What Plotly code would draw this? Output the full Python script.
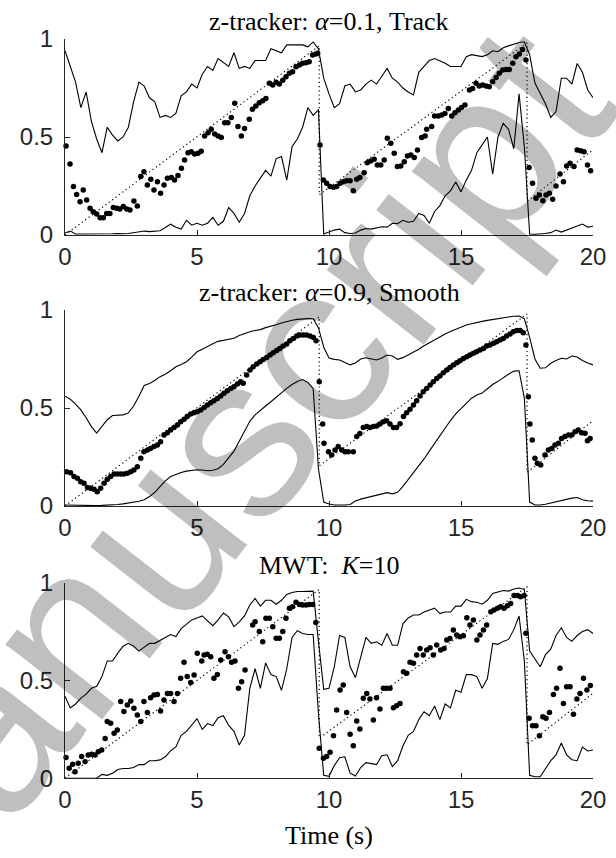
import numpy as np
import plotly.graph_objects as go

# ---------------- data ----------------
t_line = np.round(np.arange(0, 20.0001, 0.2), 1)

truth_t = [0, 9.63, 9.63, 17.5, 17.5, 20]
truth_v = [0, 0.965, 0.205, 0.98, 0.172, 0.435]

# Panel 1: z-tracker alpha=0.1 (Track)
upper1 = [0.94, 0.86, 0.78, 0.65, 0.73, 0.58, 0.49, 0.42, 0.55, 0.51, 0.48, 0.50, 0.55, 0.68, 0.78, 0.76, 0.70, 0.68, 0.60, 0.61,
          0.60, 0.62, 0.71, 0.73, 0.77, 0.75, 0.82, 0.86, 0.84, 0.90, 0.88, 0.86, 0.93, 0.85, 0.86,
          0.85, 0.89, 0.89, 0.89, 0.95, 0.94, 0.93, 0.97, 0.97, 0.97, 0.97, 0.96, 0.985, 0.95,
          0.80, 0.72, 0.65, 0.67, 0.76, 0.77, 0.73, 0.74, 0.77, 0.79, 0.77, 0.81, 0.85, 0.80, 0.78, 0.75, 0.73, 0.715, 0.83, 0.86,
          0.89, 0.90, 0.89, 0.876, 0.86, 0.86, 0.86, 0.91, 0.92, 0.915, 0.91, 0.92, 0.94, 0.935, 0.955, 0.965, 0.975, 0.982, 0.986,
          0.92, 0.775, 0.72, 0.67, 0.60, 0.63, 0.80, 0.80, 0.77, 0.875, 0.83, 0.74, 0.70]
lower1 = [0.01, 0.02, 0.005, 0.005, 0.004, 0.003, 0.003, 0.004, 0.005, 0.006, 0.008, 0.006, 0.008, 0.012, 0.015, 0.02, 0.017, 0.02,
          0.022, 0.038, 0.055, 0.04, 0.03, 0.075, 0.05, 0.06, 0.05, 0.06, 0.09, 0.05, 0.07, 0.14, 0.11, 0.065, 0.11,
          0.20, 0.25, 0.29, 0.33, 0.30, 0.39, 0.40, 0.28, 0.45, 0.49, 0.55, 0.65, 0.61, 0.64,
          0.005, 0.015, 0.025, 0.03, 0.012, 0.008, 0.01, 0.025, 0.033, 0.03, 0.035, 0.042, 0.04, 0.06, 0.058, 0.075, 0.065, 0.07, 0.11, 0.10,
          0.06, 0.12, 0.15, 0.20, 0.225, 0.27, 0.22, 0.28, 0.33, 0.42, 0.46, 0.50, 0.31, 0.50, 0.57, 0.54, 0.44, 0.72, 0.45,
          0.005, 0.004, 0.005, 0.008, 0.012, 0.025, 0.015, 0.025, 0.035, 0.045, 0.056, 0.04, 0.045]
dots1_t = [0.04, 0.19, 0.32, 0.44, 0.57, 0.69, 0.82, 0.95, 1.07, 1.2, 1.33, 1.45, 1.58, 1.7, 1.83, 1.96, 2.08, 2.21, 2.34, 2.46,
           2.61, 2.74, 2.87, 2.99, 3.12, 3.25, 3.37, 3.5, 3.62, 3.75, 3.88, 4.03, 4.15, 4.28, 4.41, 4.53, 4.66, 4.78, 4.91, 5.04,
           5.16, 5.29, 5.42, 5.54, 5.67, 5.8, 5.92, 6.05, 6.17, 6.3, 6.43, 6.55, 6.68, 6.8,
           6.98, 7.1, 7.23, 7.36, 7.49, 7.61, 7.74, 7.87, 8.0, 8.12, 8.25, 8.37, 8.5, 8.62, 8.75, 8.88, 9.0, 9.13, 9.25, 9.38, 9.5, 9.57,
           9.66, 9.79, 9.91, 10.04, 10.17, 10.29, 10.42, 10.54, 10.67, 10.8, 10.92, 11.05, 11.17, 11.33, 11.45, 11.58, 11.71, 11.83,
           11.96, 12.09, 12.21, 12.34, 12.47, 12.59, 12.72, 12.85, 12.97, 13.1, 13.23, 13.35, 13.51, 13.64,
           13.7, 13.89, 14.0, 14.14, 14.27, 14.39, 14.52, 14.65, 14.77, 14.9, 15.02, 15.15, 15.32, 15.44, 15.57, 15.69, 15.82, 15.95,
           16.07, 16.2, 16.33, 16.45, 16.58, 16.71, 16.83, 16.96, 17.08, 17.21, 17.33, 17.46, 17.58, 17.71, 17.84, 17.97, 18.1, 18.22,
           18.35, 18.47, 18.6, 18.75, 18.88, 19.0, 19.13, 19.28, 19.4, 19.53, 19.66, 19.79, 19.91]
dots1_v = [0.454, 0.362, 0.247, 0.207, 0.17, 0.23, 0.179, 0.136, 0.119, 0.107, 0.088, 0.088, 0.11, 0.11, 0.14, 0.136, 0.133, 0.145,
           0.133, 0.128, 0.173, 0.148, 0.298, 0.323, 0.255, 0.284, 0.23, 0.272, 0.213, 0.255, 0.289, 0.294, 0.28, 0.303, 0.34, 0.383,
           0.42, 0.425, 0.413, 0.417, 0.427, 0.505, 0.522, 0.539, 0.515, 0.505, 0.498, 0.573, 0.573, 0.60, 0.672, 0.553, 0.505, 0.544,
           0.59, 0.641, 0.658, 0.675, 0.685, 0.697, 0.774, 0.765, 0.779, 0.77, 0.79, 0.808, 0.825, 0.833, 0.859, 0.867, 0.876, 0.879,
           0.884, 0.918, 0.923, 0.927,
           0.459, 0.28, 0.264, 0.247, 0.243, 0.247, 0.264, 0.272, 0.277, 0.277, 0.226, 0.284, 0.294, 0.318, 0.369, 0.378, 0.386, 0.357,
           0.357, 0.383, 0.493, 0.468, 0.417, 0.349, 0.352, 0.374, 0.403, 0.408, 0.396, 0.434, 0.498, 0.505,
           0.539, 0.553, 0.607, 0.607, 0.612, 0.62, 0.646, 0.607, 0.624, 0.638, 0.651, 0.663, 0.74, 0.748, 0.774, 0.76, 0.765, 0.76,
           0.757, 0.782, 0.804, 0.825, 0.842, 0.845, 0.845, 0.876, 0.91, 0.923, 0.947, 0.893, 0.345, 0.264, 0.187, 0.204, 0.175, 0.204,
           0.213, 0.182, 0.25, 0.311, 0.272, 0.352, 0.366, 0.349, 0.434, 0.43, 0.425, 0.357, 0.328]

# Panel 2: z-tracker alpha=0.9 (Smooth)
upper2 = [0.56, 0.545, 0.52, 0.49, 0.45, 0.405, 0.372, 0.405, 0.44, 0.462, 0.465, 0.465, 0.475, 0.51, 0.56, 0.615, 0.625, 0.64,
          0.66, 0.672, 0.69, 0.71, 0.722, 0.736, 0.76, 0.787, 0.80, 0.815, 0.828, 0.84, 0.845, 0.849, 0.856, 0.87, 0.88,
          0.889, 0.895, 0.90, 0.91, 0.916, 0.925, 0.934, 0.942, 0.948, 0.952, 0.955, 0.956, 0.955, 0.91,
          0.81, 0.755, 0.748, 0.745, 0.732, 0.72, 0.73, 0.75, 0.756, 0.752, 0.745, 0.755, 0.77, 0.765, 0.748, 0.757, 0.77, 0.787, 0.80, 0.818,
          0.833, 0.85, 0.864, 0.877, 0.89, 0.902, 0.913, 0.923, 0.93, 0.937, 0.942, 0.947, 0.952, 0.956, 0.96, 0.964, 0.968, 0.969, 0.955,
          0.86, 0.75, 0.703, 0.705, 0.728, 0.742, 0.754, 0.75, 0.765, 0.76, 0.742, 0.73, 0.72]
lower2 = [0.005, 0.004, 0.003, 0.002, 0.002, 0.002, 0.002, 0.003, 0.004, 0.006, 0.008, 0.011, 0.015, 0.018, 0.024, 0.032, 0.048, 0.07,
          0.098, 0.128, 0.15, 0.162, 0.171, 0.178, 0.183, 0.185, 0.184, 0.18, 0.182, 0.19, 0.212, 0.248, 0.28, 0.33, 0.385,
          0.432, 0.465, 0.49, 0.51, 0.532, 0.556, 0.58, 0.60, 0.62, 0.635, 0.645, 0.63, 0.60, 0.19,
          0.02, 0.01, 0.005, 0.004, 0.005, 0.008, 0.025, 0.035, 0.042, 0.05, 0.056, 0.063, 0.068, 0.062, 0.07, 0.1, 0.135, 0.167, 0.2, 0.24,
          0.28, 0.32, 0.362, 0.40, 0.436, 0.47, 0.497, 0.524, 0.55, 0.566, 0.576, 0.598, 0.62, 0.636, 0.655, 0.672, 0.688, 0.69, 0.55,
          0.02, 0.005, 0.005, 0.009, 0.015, 0.022, 0.028, 0.035, 0.04, 0.043, 0.032, 0.027, 0.025]
dots2_t = [0.06, 0.21, 0.34, 0.47, 0.59, 0.72, 0.85, 0.97, 1.1, 1.22, 1.35, 1.48, 1.6, 1.73, 1.86, 1.98, 2.11, 2.23, 2.36, 2.49,
           2.61, 2.74, 2.87, 2.99, 3.12, 3.24, 3.37, 3.5, 3.62, 3.75, 3.88, 4.0, 4.13, 4.26, 4.38, 4.51, 4.63, 4.76, 4.89, 5.01,
           5.14, 5.27, 5.39, 5.52, 5.64, 5.77, 5.9, 6.02, 6.15, 6.28, 6.4, 6.53, 6.65, 6.75, 6.88, 7.01, 7.13, 7.26, 7.39, 7.51,
           7.64, 7.77, 7.89, 8.02, 8.14, 8.27, 8.4, 8.52, 8.65, 8.78, 8.9, 9.03, 9.15, 9.28, 9.41, 9.51,
           9.63, 9.76, 9.81, 9.98, 10.1, 10.23, 10.35, 10.48, 10.61, 10.73, 10.92, 11.05, 11.17, 11.3, 11.43, 11.55, 11.68, 11.81,
           11.93, 12.06, 12.18, 12.31, 12.44, 12.56, 12.69, 12.82, 12.94, 13.07, 13.2, 13.32, 13.45, 13.57, 13.7, 13.83, 13.95,
           14.08, 14.2, 14.33, 14.46, 14.58, 14.71, 14.84, 14.96, 15.09, 15.22, 15.34, 15.47, 15.59, 15.72, 15.85, 15.97, 16.1,
           16.23, 16.35, 16.48, 16.6, 16.73, 16.86, 16.98, 17.11, 17.24, 17.36, 17.46, 17.55, 17.61, 17.7, 17.8, 17.89, 18.02,
           18.18, 18.31, 18.44, 18.56, 18.69, 18.81, 18.94, 19.07, 19.19, 19.32, 19.44, 19.57, 19.7, 19.79, 19.89]
dots2_v = [0.175, 0.17, 0.15, 0.141, 0.124, 0.116, 0.095, 0.09, 0.085, 0.073, 0.09, 0.116, 0.136, 0.15, 0.163, 0.163, 0.163, 0.163,
           0.167, 0.175, 0.184, 0.20, 0.243, 0.277, 0.286, 0.294, 0.303, 0.311, 0.328, 0.362, 0.374, 0.388, 0.40, 0.413, 0.43, 0.442,
           0.456, 0.47, 0.476, 0.481, 0.49, 0.503, 0.515, 0.527, 0.537, 0.549, 0.561, 0.575, 0.588, 0.60, 0.609, 0.622, 0.634, 0.626,
           0.668, 0.694, 0.711, 0.724, 0.736, 0.748, 0.758, 0.77, 0.782, 0.793, 0.804, 0.816, 0.826, 0.843, 0.855, 0.867, 0.872, 0.872,
           0.872, 0.867, 0.86, 0.843,
           0.634, 0.418, 0.32, 0.277, 0.26, 0.286, 0.303, 0.286, 0.277, 0.277, 0.277, 0.354, 0.37, 0.40, 0.405, 0.40, 0.405, 0.408,
           0.418, 0.43, 0.435, 0.418, 0.40, 0.40, 0.42, 0.456, 0.476, 0.493, 0.515, 0.537, 0.561, 0.583, 0.60, 0.617, 0.634, 0.651,
           0.663, 0.68, 0.694, 0.707, 0.719, 0.731, 0.741, 0.753, 0.762, 0.77, 0.779, 0.787, 0.796, 0.804, 0.816, 0.821, 0.83, 0.838,
           0.847, 0.855, 0.867, 0.878, 0.889, 0.895, 0.895, 0.884, 0.821, 0.558, 0.418, 0.337, 0.243, 0.218, 0.209, 0.26, 0.286, 0.294,
           0.311, 0.32, 0.345, 0.354, 0.362, 0.362, 0.379, 0.388, 0.374, 0.371, 0.333, 0.345]

# Panel 3: MWT K=10
upper3 = [0.42, 0.36, 0.38, 0.41, 0.43, 0.46, 0.47, 0.52, 0.60, 0.60, 0.64, 0.675, 0.69, 0.675, 0.65, 0.67, 0.69, 0.69, 0.707, 0.72,
          0.735, 0.725, 0.765, 0.79, 0.81, 0.82, 0.83, 0.805, 0.78, 0.81, 0.845, 0.825, 0.775, 0.80, 0.83,
          0.886, 0.92, 0.88, 0.91, 0.91, 0.89, 0.91, 0.94, 0.95, 0.955, 0.955, 0.957, 0.957, 0.70,
          0.455, 0.46, 0.57, 0.73, 0.72, 0.57, 0.515, 0.62, 0.72, 0.69, 0.698, 0.68, 0.74, 0.68, 0.68, 0.79, 0.82, 0.835, 0.835, 0.85,
          0.86, 0.87, 0.842, 0.85, 0.85, 0.88, 0.88, 0.915, 0.903, 0.90, 0.89, 0.91, 0.945, 0.952, 0.96, 0.957, 0.968, 0.973, 0.965,
          0.65, 0.61, 0.57, 0.632, 0.66, 0.73, 0.77, 0.72, 0.70, 0.73, 0.75, 0.76, 0.74]
lower3 = [0.0, 0.0, 0.0, 0.0, 0.0, 0.0, 0.0, 0.02, 0.015, 0.026, 0.045, 0.05, 0.05, 0.055, 0.07, 0.07, 0.09, 0.09, 0.094, 0.11,
          0.14, 0.16, 0.22, 0.24, 0.27, 0.305, 0.25, 0.28, 0.27, 0.31, 0.32, 0.27, 0.24, 0.17, 0.22,
          0.46, 0.56, 0.46, 0.59, 0.53, 0.52, 0.45, 0.56, 0.72, 0.755, 0.74, 0.735, 0.735, 0.33,
          0.015, 0.01, 0.065, 0.105, 0.11, 0.026, 0.012, 0.055, 0.08, 0.075, 0.07, 0.115, 0.12, 0.06, 0.09, 0.165, 0.22, 0.24, 0.30, 0.34,
          0.32, 0.37, 0.30, 0.38, 0.36, 0.45, 0.44, 0.53, 0.53, 0.52, 0.46, 0.51, 0.69, 0.685, 0.70, 0.71, 0.76, 0.83, 0.60,
          0.015, 0.008, 0.008, 0.05, 0.09, 0.12, 0.18, 0.12, 0.095, 0.09, 0.16, 0.14, 0.145]
dots3_t = [0.04, 0.16, 0.29, 0.38, 0.5, 0.63, 0.76, 0.88, 1.01, 1.14, 1.26, 1.39, 1.52, 1.6, 1.73, 1.86, 1.98, 2.11, 2.23, 2.36,
           2.49, 2.61, 2.74, 2.87, 2.99, 3.12, 3.24, 3.37, 3.5, 3.62, 3.75, 3.88, 4.0, 4.13, 4.26, 4.38, 4.51, 4.63, 4.76, 4.89,
           5.01, 5.18, 5.27, 5.39, 5.52, 5.64, 5.77, 5.9, 6.06, 6.19, 6.31, 6.44, 6.57, 6.69,
           6.82, 7.11, 7.2, 7.36, 7.49, 7.61, 7.74, 7.87, 8.0, 8.12, 8.25, 8.37, 8.5, 8.62, 8.75, 8.88, 9.0, 9.13, 9.25, 9.38, 9.5,
           9.63, 9.79, 9.91, 10.04, 10.17, 10.29, 10.42, 10.54, 10.67, 10.8, 10.92, 11.05, 11.17, 11.3, 11.43, 11.55, 11.68, 11.8,
           11.93, 12.06, 12.18, 12.31, 12.44, 12.56, 12.69, 12.82, 12.94, 13.07, 13.2, 13.32, 13.45, 13.57,
           13.7, 13.83, 13.95, 14.08, 14.23, 14.36, 14.46, 14.58, 14.71, 14.84, 14.96, 15.09, 15.22, 15.34, 15.47, 15.6, 15.72,
           15.85, 15.97, 16.13, 16.25, 16.38, 16.5, 16.63, 16.76, 16.88, 17.01, 17.14, 17.26, 17.39, 17.46, 17.58, 17.71, 17.84,
           17.97, 18.1, 18.22, 18.35, 18.5, 18.62, 18.75, 18.88, 19.0, 19.13, 19.26, 19.39, 19.51, 19.64, 19.77, 19.9]
dots3_v = [0.106, 0.051, 0.072, 0.034, 0.077, 0.111, 0.085, 0.119, 0.123, 0.119, 0.136, 0.145, 0.204, 0.29, 0.281, 0.23, 0.247,
           0.392, 0.341, 0.375, 0.395, 0.358, 0.324, 0.29, 0.392, 0.337, 0.412, 0.426, 0.429, 0.344, 0.40, 0.434, 0.434, 0.392,
           0.434, 0.511, 0.593, 0.52, 0.49, 0.528, 0.639, 0.60, 0.63, 0.634, 0.622, 0.511, 0.531, 0.605, 0.647, 0.622, 0.593,
           0.60, 0.46, 0.494,
           0.554, 0.784, 0.80, 0.75, 0.698, 0.818, 0.818, 0.775, 0.716, 0.716, 0.75, 0.818, 0.869, 0.877, 0.90, 0.889, 0.886,
           0.886, 0.889, 0.889, 0.797,
           0.153, 0.102, 0.111, 0.133, 0.218, 0.349, 0.451, 0.477, 0.337, 0.225, 0.167, 0.293, 0.252, 0.409, 0.434, 0.405, 0.298,
           0.412, 0.354, 0.46, 0.46, 0.46, 0.361, 0.371, 0.383, 0.545, 0.537, 0.593, 0.588, 0.63, 0.664, 0.63,
           0.656, 0.668, 0.63, 0.681, 0.656, 0.664, 0.707, 0.715, 0.758, 0.733, 0.724, 0.729, 0.821, 0.784, 0.809, 0.707, 0.733,
           0.758, 0.784, 0.852, 0.86, 0.869, 0.877, 0.869, 0.882, 0.894, 0.934, 0.934, 0.928, 0.934, 0.741, 0.307, 0.269, 0.269,
           0.218, 0.315, 0.307, 0.337, 0.429, 0.46, 0.562, 0.383, 0.468, 0.468, 0.327, 0.405, 0.434, 0.511, 0.451, 0.474]

titles = ["z-tracker: <i>\u03b1</i>=0.1, Track",
          "z-tracker: <i>\u03b1</i>=0.9, Smooth",
          "MWT:  <i>K</i>=10"]
x_ticks = [0, 5, 10, 15, 20]
y_ticks = [0, 0.5, 1]
y_ticktext = ["0", "0.5", "1"]
x_label = "Time (s)"
watermark = "Manuscript"

panels = [(upper1, lower1, dots1_t, dots1_v),
          (upper2, lower2, dots2_t, dots2_v),
          (upper3, lower3, dots3_t, dots3_v)]

# ---------------- layout geometry ----------------
W, H = 616, 858
x_dom = [65 / W, 593 / W]
y_px = [(39, 235), (310, 506), (582.7, 778.3)]   # (top, bottom) in pixels
y_doms = [[1 - b / H, 1 - t / H] for (t, b) in y_px]

AX_COL = "#262626"
TICK_FONT = dict(family="Liberation Sans, Arial, sans-serif", size=24, color=AX_COL)
SERIF = "Liberation Serif, Times New Roman, serif"

fig = go.Figure()
for i, (up, lo, dt, dv) in enumerate(panels):
    xa = "x" if i == 0 else f"x{i+1}"
    ya = "y" if i == 0 else f"y{i+1}"
    fig.add_trace(go.Scatter(x=truth_t, y=truth_v, mode="lines",
                             line=dict(color="black", width=1.2, dash="1.2px,3px"),
                             xaxis=xa, yaxis=ya, showlegend=False, hoverinfo="skip"))
    fig.add_trace(go.Scatter(x=t_line, y=up, mode="lines", line=dict(color="black", width=1.1),
                             xaxis=xa, yaxis=ya, showlegend=False))
    fig.add_trace(go.Scatter(x=t_line, y=lo, mode="lines", line=dict(color="black", width=1.1),
                             xaxis=xa, yaxis=ya, showlegend=False))
    fig.add_trace(go.Scatter(x=dt, y=dv, mode="markers", marker=dict(color="black", size=5.5, line=dict(width=0)),
                             xaxis=xa, yaxis=ya, showlegend=False, cliponaxis=False))

    axis_common = dict(showline=True, linecolor=AX_COL, linewidth=1, ticks="inside", ticklen=5,
                       tickcolor=AX_COL, tickwidth=1, showgrid=False, zeroline=False, mirror=False,
                       tickfont=TICK_FONT, automargin=False)
    xkey = "xaxis" if i == 0 else f"xaxis{i+1}"
    ykey = "yaxis" if i == 0 else f"yaxis{i+1}"
    fig.update_layout(**{
        xkey: dict(domain=x_dom, range=[0, 20], tickvals=x_ticks, anchor=ya, **axis_common),
        ykey: dict(domain=y_doms[i], range=[0, 1], tickvals=y_ticks, ticktext=y_ticktext, anchor=xa,
                   ticklabelstandoff=6, **axis_common),
    })
    fig.add_annotation(text=titles[i], xref="paper", yref="paper",
                       x=(x_dom[0] + x_dom[1]) / 2, y=y_doms[i][1], xanchor="center", yanchor="bottom",
                       yshift=1, showarrow=False, font=dict(family=SERIF, size=26, color="black"))

fig.add_annotation(text=x_label, xref="paper", yref="paper", x=(x_dom[0] + x_dom[1]) / 2, y=1 - 835 / H,
                   xanchor="center", yanchor="middle", showarrow=False,
                   font=dict(family=SERIF, size=26, color="black"))

# diagonal grey watermark, laid out letter by letter along a slanted baseline
# (the reference image is slightly stretched horizontally, so letter positions are stretched too)
WM_SIZE = 232
WM_EM = 225.0
WM_THETA = np.deg2rad(52.0)
WM_SX = 1.1
adv = {"M": 0.833, "a": 0.556, "n": 0.556, "u": 0.556, "s": 0.5, "c": 0.5, "r": 0.333, "i": 0.222, "p": 0.556, "t": 0.278}
bvec = np.array([np.cos(WM_THETA), -np.sin(WM_THETA)])
uvec = np.array([-np.sin(WM_THETA), -np.cos(WM_THETA)])
idot = np.array([353 / WM_SX, 183.0])
origin = idot - 3.945 * WM_EM * bvec - 0.67 * WM_EM * uvec
pos = 0.0
for ch in watermark:
    c = origin + (pos + adv[ch] / 2) * WM_EM * bvec + 0.3465 * WM_EM * uvec
    pos += adv[ch]
    px, py = c[0] * WM_SX, c[1]
    fig.add_annotation(text=ch, xref="paper", yref="paper", x=px / W, y=1 - py / H,
                       xanchor="center", yanchor="middle", textangle=-52, showarrow=False,
                       font=dict(family="Liberation Sans, Arial, sans-serif", size=WM_SIZE,
                                 color="rgba(0,0,0,0.25)"))

fig.update_layout(width=W, height=H, margin=dict(l=0, r=0, t=0, b=0, autoexpand=False),
                  paper_bgcolor="white", plot_bgcolor="rgba(0,0,0,0)")

fig.write_html("out.html")
